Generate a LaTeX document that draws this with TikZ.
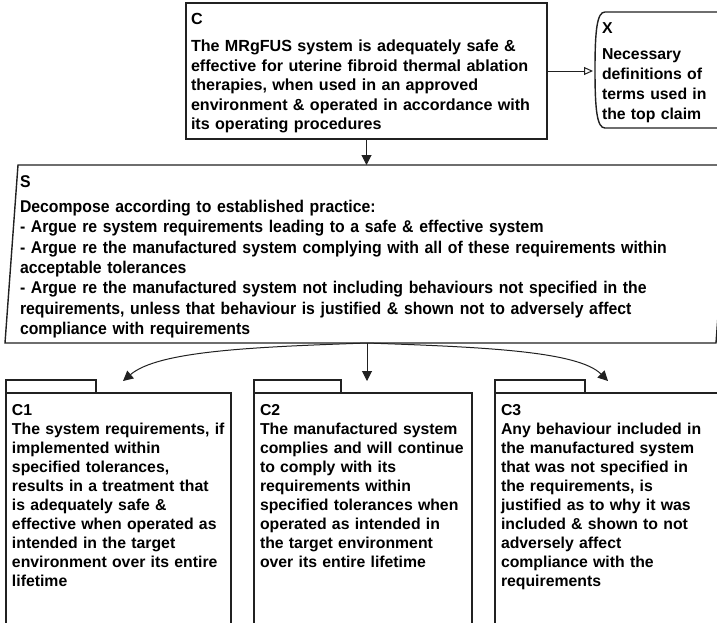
\documentclass[tikz,border=0pt]{standalone}
\usepackage{fontspec}
\setmainfont{Liberation Sans}
\newfontfamily\narrowsans{Liberation Sans}[FakeStretch=0.93]
\usetikzlibrary{arrows.meta,calc}
\definecolor{ink}{rgb}{0.13,0.13,0.13}
\begin{document}
\begin{tikzpicture}[x=1pt,y=-1pt,
  frame/.style={draw=ink, line width=1.2pt, inner sep=0pt, outer sep=0pt},
  holder/.style={inner sep=0pt, outer sep=0pt},
  txt/.style={anchor=north west, inner sep=0pt, outer sep=0pt, align=left, text=black},
  claimfont/.style={font=\fontsize{16.1}{19.5}\selectfont\bfseries},
  ctxfont/.style={font=\fontsize{15.8}{20}\selectfont\bfseries},
  stratfont/.style={font=\narrowsans\fontsize{17}{20.3}\selectfont\bfseries},
  subfont/.style={font=\fontsize{15.8}{19}\selectfont\bfseries},
  link/.style={draw=ink, line width=1pt, -{Triangle[length=10pt,width=10pt]}},
  ctxlink/.style={draw=ink, line width=1pt, -{Triangle[open,length=9pt,width=8pt]}},
]
\useasboundingbox (0,0) rectangle (717,622);
\clip (0,0) rectangle (717,622);

% top claim
\node[frame, line width=1.8pt, anchor=north west, minimum width=361pt, minimum height=136pt] (C) at (186,3) {};
\node[txt, claimfont, text width=356pt] (Ct) at (191,10.95) {\strut C\\[7.4pt]
The MRgFUS system is adequately safe \&\\
effective for uterine fibroid thermal ablation\\
therapies, when used in an approved\\
environment \& operated in accordance with\\
its operating procedures};

% context
\node[holder, anchor=north west, minimum width=140pt, minimum height=116pt] (X) at (595,12) {};
\draw[ink, line width=1.4pt] (X.north east) -- ($(X.north west)+(10,0)$)
  .. controls ($(X.north west)+(2,0)$) and ($(X.west)+(0,-40)$) .. (X.west)
  .. controls ($(X.west)+(0,40)$) and ($(X.south west)+(2,0)$) .. ($(X.south west)+(10,0)$)
  -- (X.south east);
\node[txt, ctxfont, text width=130pt] (Xt) at (602,19.6) {\strut X\\[5.9pt]
Necessary\\
definitions of\\
terms used in\\
the top claim};

% strategy
\node[holder, minimum width=712pt, minimum height=178pt] (S) at (367,254) {};
\draw[ink, line width=1.4pt] (18,165) -- (729,165) -- (716,343) -- (5,343) -- cycle;
\node[txt, stratfont, text width=700pt] (St) at (20,173.4) {\strut S\\[4.6pt]
Decompose according to established practice:\\
- Argue re system requirements leading to a safe \& effective system\\
- Argue re the manufactured system complying with all of these requirements within\\
acceptable tolerances\\
- Argue re the manufactured system not including behaviours not specified in the\\
requirements, unless that behaviour is justified \& shown not to adversely affect\\
compliance with requirements};

% sub-claims
\node[frame, anchor=north west, minimum width=225pt, minimum height=260pt] (C1) at (6,393) {};
\node[frame, anchor=south west, minimum width=90pt, minimum height=13pt] (C1tab) at (C1.north west) {};
\node[frame, anchor=north west, minimum width=218pt, minimum height=260pt] (C2) at (254,393) {};
\node[frame, anchor=south west, minimum width=87pt, minimum height=13pt] (C2tab) at (C2.north west) {};
\node[frame, anchor=north west, minimum width=240pt, minimum height=260pt] (C3) at (495,393) {};
\node[frame, anchor=south west, minimum width=90pt, minimum height=13pt] (C3tab) at (C3.north west) {};

\node[txt, subfont, text width=220pt] (C1t) at (12,401.7) {\strut C1\\
The system requirements, if\\
implemented within\\
specified tolerances,\\
results in a treatment that\\
is adequately safe \&\\
effective when operated as\\
intended in the target\\
environment over its entire\\
lifetime};
\node[txt, subfont, text width=212pt] (C2t) at (260,401.7) {\strut C2\\
The manufactured system\\
complies and will continue\\
to comply with its\\
requirements within\\
specified tolerances when\\
operated as intended in\\
the target environment\\
over its entire lifetime};
\node[txt, subfont, text width=215pt] (C3t) at (501,401.7) {\strut C3\\
Any behaviour included in\\
the manufactured system\\
that was not specified in\\
the requirements, is\\
justified as to why it was\\
included \& shown to not\\
adversely affect\\
compliance with the\\
requirements};

% arrow targets above the sub-claims
\coordinate (t1) at ($(C1.north)+(4.5,-12)$);
\coordinate (t2) at ($(C2.north)+(4,-12)$);
\coordinate (t3) at ($(C3.north)+(-7,-12)$);

% connectors
\draw[link] (C.south) -- (C.south |- S.north);
\draw[ctxlink, shorten >=2pt] (C.east) -- (C.east -| X.west);
\draw[link] (S.south) -- (S.south |- t2);
\draw[link] (S.south) .. controls ($(S.south)+(-115,4)$) and ($(t1)+(35,-30)$) .. (t1);
\draw[link] (S.south) .. controls ($(S.south)+(115,4)$) and ($(t3)+(-30,-30)$) .. (t3);
\end{tikzpicture}
\end{document}
